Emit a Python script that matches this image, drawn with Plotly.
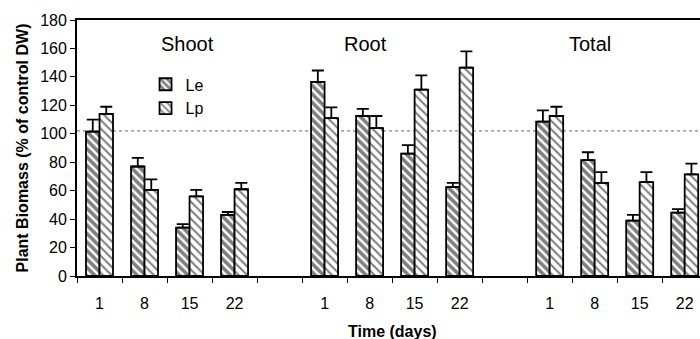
import plotly.graph_objects as go

# ---- data ----
days = ["1", "8", "15", "22"]
panels = ["Shoot", "Root", "Total"]
le_values = [101.5, 77, 34, 43,   136.5, 112.5, 86, 62.5,   108.5, 81.5, 39, 44.5]
le_errors = [8.5, 6, 2.5, 2,      8, 5, 6, 3,              8, 5.5, 4, 2.5]
lp_values = [114, 60.5, 56, 61,   111, 104, 131, 146.5,    112.5, 65.5, 66, 71.5]
lp_errors = [5, 7.5, 4.5, 4.5,    7.5, 8.5, 10, 11.5,      6.5, 7.5, 7, 7.5]
ref_level = 102
y_ticks = [0, 20, 40, 60, 80, 100, 120, 140, 160, 180]

# x positions: 4 days per panel, one empty slot between panels
xpos = []
for p in range(len(panels)):
    for d in range(len(days)):
        xpos.append(p * (len(days) + 1) + d)
xlabels = days * len(panels)
boundaries = [i - 0.5 for i in range(0, 15)]

FONT = "Liberation Sans, Arial, sans-serif"

fig = go.Figure()
fig.add_trace(go.Bar(
    x=xpos, y=le_values, name="Le",
    marker=dict(color="white", line=dict(color="black", width=1.8),
                pattern=dict(shape="\\", fgcolor="black", bgcolor="white",
                             size=6, solidity=0.6)),
    error_y=dict(type="data", symmetric=False, array=le_errors,
                 arrayminus=[0] * len(le_errors), color="black",
                 thickness=1.8, width=6),
))
fig.add_trace(go.Bar(
    x=xpos, y=lp_values, name="Lp",
    marker=dict(color="white", line=dict(color="black", width=1.8),
                pattern=dict(shape="\\", fgcolor="black", bgcolor="white",
                             size=6, solidity=0.35)),
    error_y=dict(type="data", symmetric=False, array=lp_errors,
                 arrayminus=[0] * len(lp_errors), color="black",
                 thickness=1.8, width=6),
))

fig.add_shape(type="line", xref="paper", yref="y", x0=0, x1=1,
              y0=ref_level, y1=ref_level,
              line=dict(color="#666666", width=1, dash="dot"), layer="below")

panel_centers = [1.95, 5.9, 10.9]
for name, cx in zip(panels, panel_centers):
    fig.add_annotation(x=cx, y=163, xref="x", yref="y", text=name,
                       showarrow=False, font=dict(family=FONT, size=20, color="black"))

fig.add_annotation(x=(392 - 77) / 623, y=-0.215, xref="paper", yref="paper",
                   text="<b>Time (days)</b>", showarrow=False,
                   yanchor="middle", font=dict(family=FONT, size=16, color="black"))

fig.update_layout(
    width=700, height=339,
    margin=dict(l=77, r=0, t=20, b=63),
    paper_bgcolor="white", plot_bgcolor="white",
    barmode="group", bargap=0.4, bargroupgap=0,
    font=dict(family=FONT, size=16, color="black"),
    showlegend=True,
    legend=dict(x=0.11, y=0.815, xanchor="left", yanchor="top",
                bgcolor="rgba(0,0,0,0)", font=dict(size=16),
                tracegroupgap=8, itemwidth=30),
    xaxis=dict(range=[-0.5, 13.34], tickmode="array", tickvals=xpos,
               ticktext=xlabels, ticks="outside", ticklen=12,
               tickcolor="rgba(0,0,0,0)",
               minor=dict(tickmode="array", tickvals=boundaries, ticks="outside",
                          ticklen=5, tickcolor="black", tickwidth=1.2),
               showline=True, linecolor="black", linewidth=2, mirror=True,
               showgrid=False, zeroline=False, tickfont=dict(size=16)),
    yaxis=dict(range=[0, 180], tickmode="array", tickvals=y_ticks,
               ticks="outside", ticklen=5, tickcolor="black",
               showline=True, linecolor="black", linewidth=1.8,
               showgrid=False, zeroline=False, tickfont=dict(size=16),
               title=dict(text="<b>Plant Biomass (% of control DW)</b>",
                          font=dict(size=16), standoff=8)),
)

fig.write_html("out.html")
